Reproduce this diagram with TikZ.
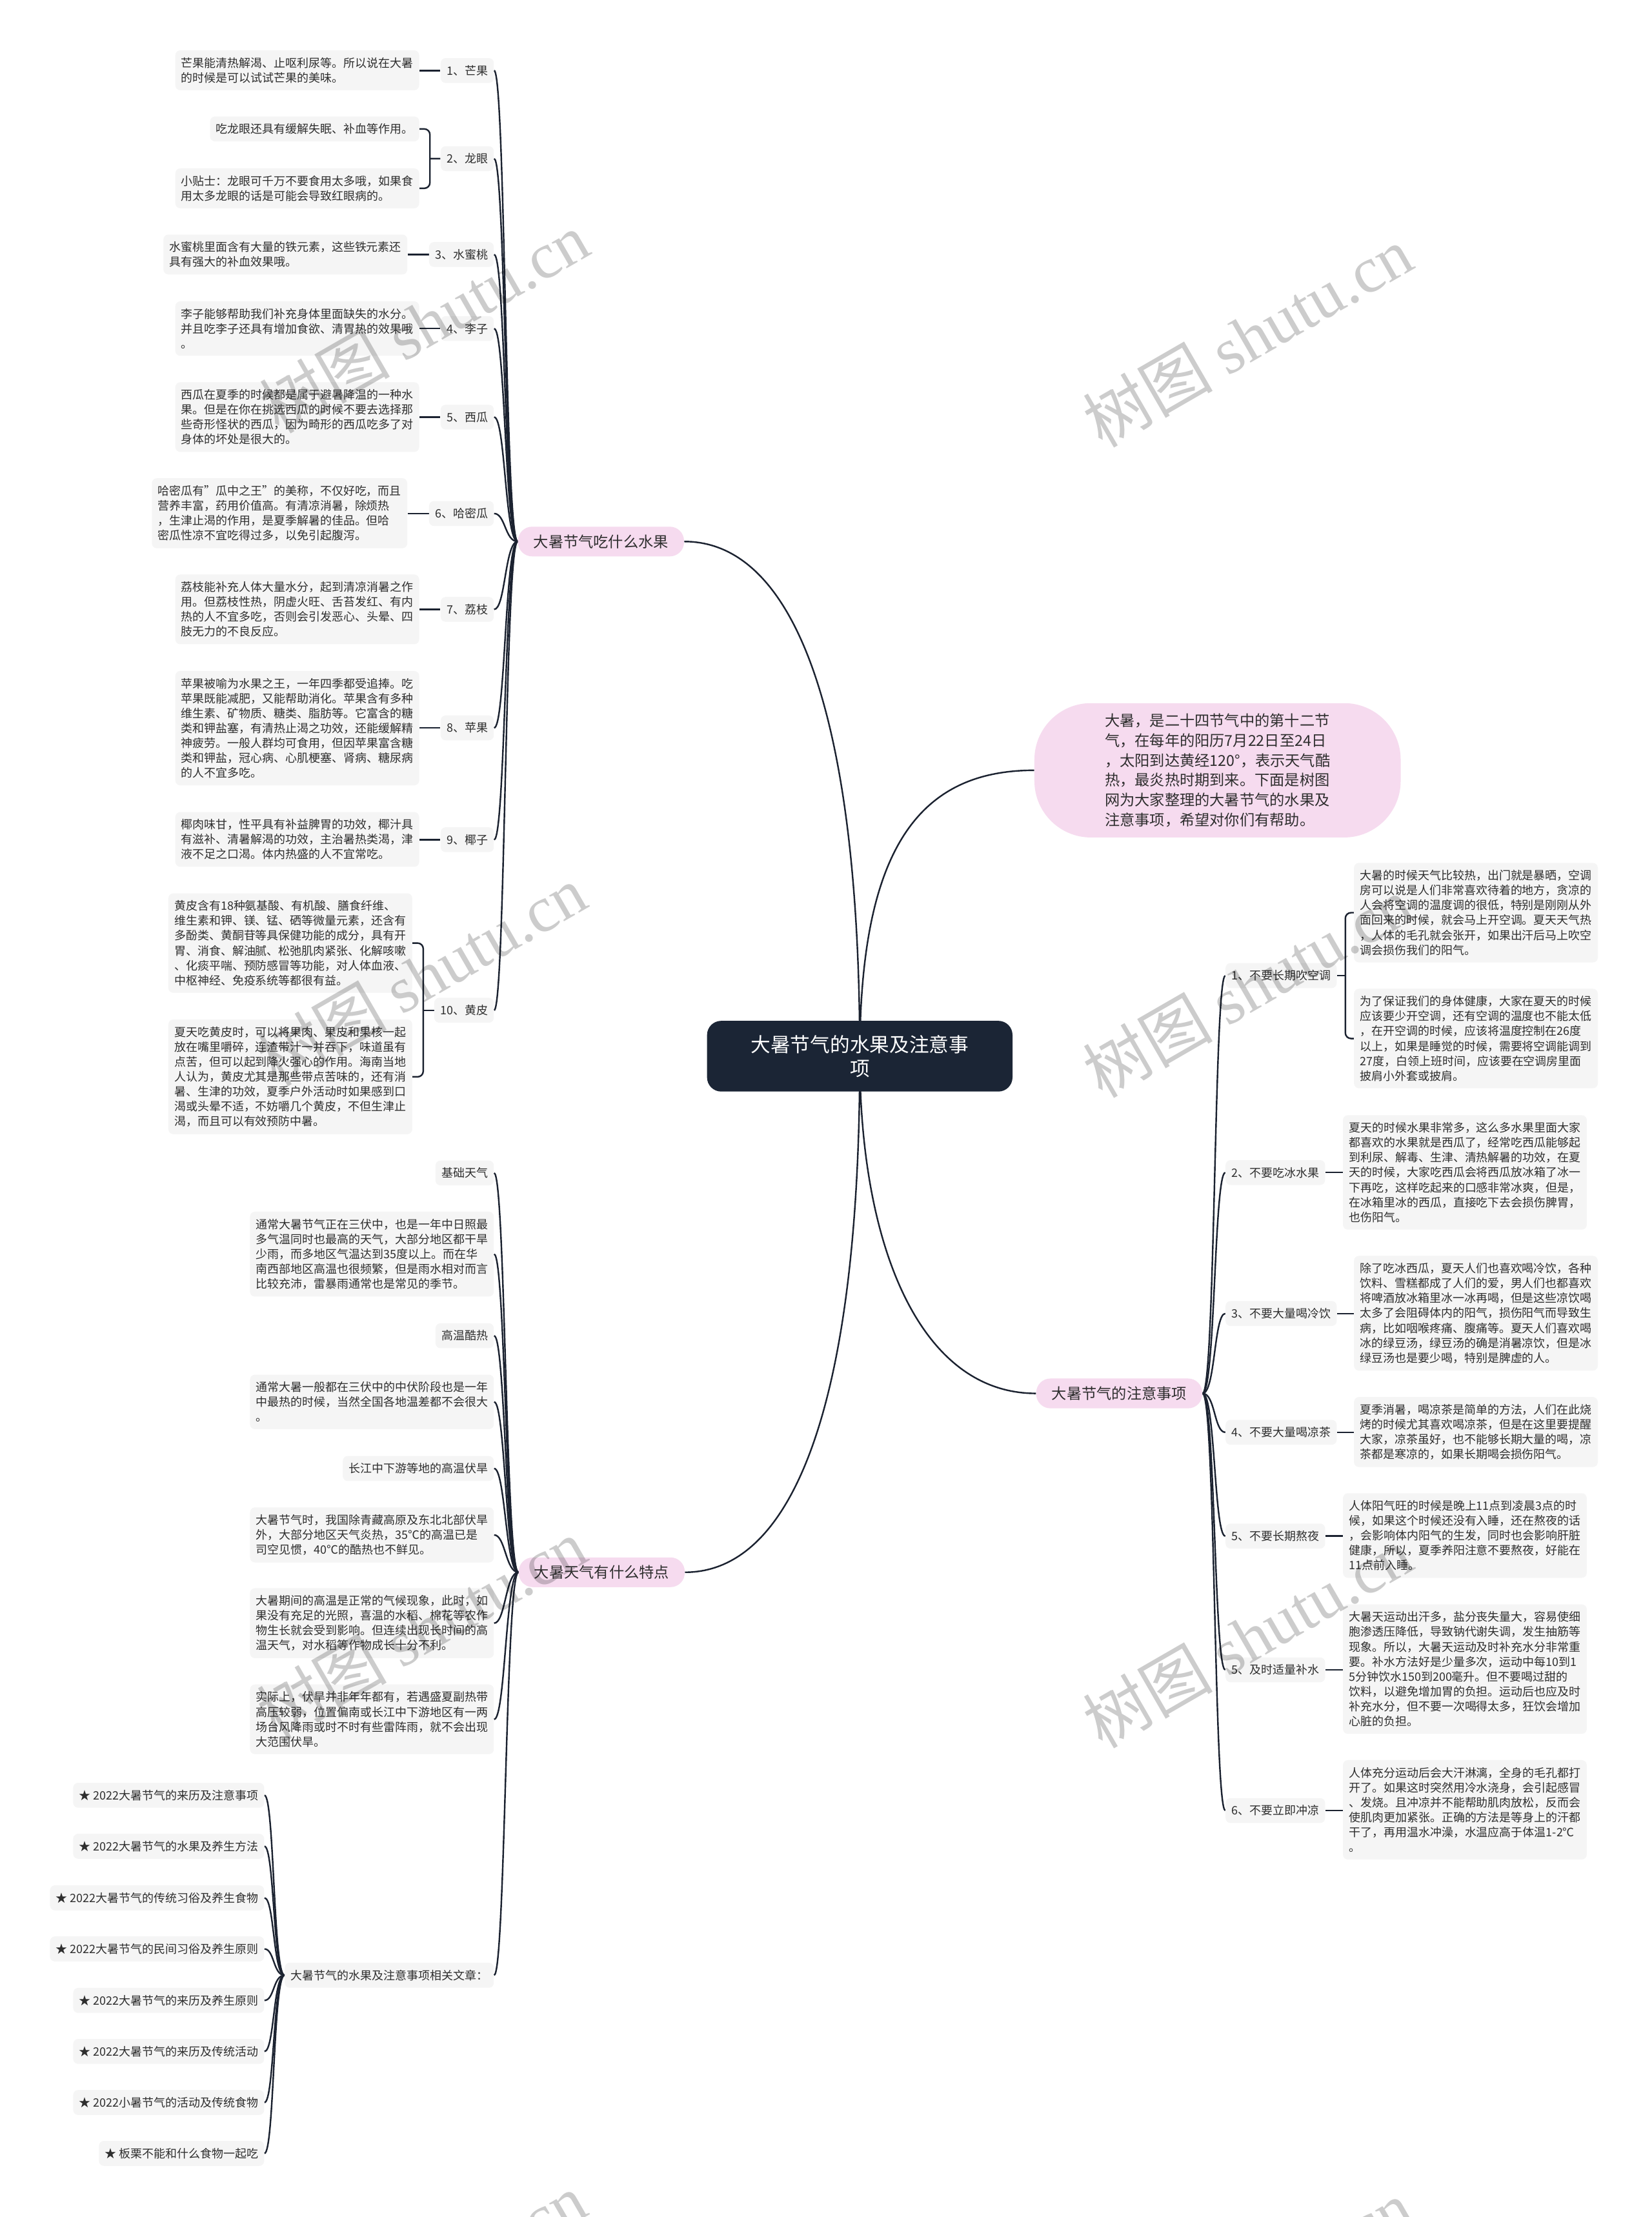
\documentclass[tikz,border=0pt]{standalone}
\usepackage{fontspec}
\setmainfont{Noto Sans CJK SC}
\newfontfamily\wmserif{Liberation Serif}
\usetikzlibrary{calc}
\pgfdeclarelayer{bg}
\pgfdeclarelayer{wm}
\pgfsetlayers{bg,main,wm}
\definecolor{parabg}{HTML}{F5F5F5}
\definecolor{pinkc}{HTML}{F6DBEF}
\definecolor{navy}{HTML}{1B2535}
\definecolor{linec}{HTML}{1B2230}
\definecolor{txt}{HTML}{2E2E2E}
\tikzset{
 para/.style={fill=parabg, rounded corners=3.5pt, inner xsep=4.2pt, inner ysep=5pt, align=left, text=txt, font=\fontsize{8.2}{10.55}\selectfont},
 pill/.style={fill=pinkc, rounded corners=10pt, inner xsep=11pt, inner ysep=5.6pt, text=txt, font=\fontsize{10.6}{13}\selectfont},
 conn/.style={draw=linec, line width=1.1pt},
 wmark/.style={text=black, text opacity=0.2, rotate=30, font=\fontsize{46}{50}\selectfont}
}
\begin{document}
\begin{tikzpicture}[x=1pt,y=-1pt]
\useasboundingbox (0,0) rectangle (1168,1568);
\begin{pgfonlayer}{bg}
\fill[white] (0,0) rectangle (1168,1568);
\end{pgfonlayer}

% center
\node[fill=navy, text=white, rounded corners=10pt, minimum width=216pt, minimum height=50pt, align=center, font=\fontsize{14}{17}\selectfont] (c) at (608,747) {大暑节气的水果及注意事\\项};

% branches
\node[pill] (b1) at (425,383) {大暑节气吃什么水果};
\node[pill] (bw) at (425.5,1112) {大暑天气有什么特点};
\node[pill] (b3) at (791.5,985.5) {大暑节气的注意事项};
\node[fill=pinkc, rounded corners=40pt, minimum width=259pt, minimum height=95pt, align=left, text=txt, font=\fontsize{10.6}{14.06}\selectfont] (b2) at (861,544.8) {大暑，是二十四节气中的第十二节\\气，在每年的阳历7月22日至24日\\，太阳到达黄经120°，表示天气酷\\热，最炎热时期到来。下面是树图\\网为大家整理的大暑节气的水果及\\注意事项，希望对你们有帮助。};
\node[para, anchor=east] (b4) at (349.4,1397) {大暑节气的水果及注意事项相关文章：};

% fruit labels
\node[para, anchor=east] (f1) at (349.4,49.9) {1、芒果};
\node[para, anchor=east] (f2) at (349.4,112.2) {2、龙眼};
\node[para, anchor=east] (f3) at (349.4,180) {3、水蜜桃};
\node[para, anchor=east] (f4) at (349.4,232.4) {4、李子};
\node[para, anchor=east] (f5) at (349.4,295) {5、西瓜};
\node[para, anchor=east] (f6) at (349.4,363.2) {6、哈密瓜};
\node[para, anchor=east] (f7) at (349.4,431) {7、荔枝};
\node[para, anchor=east] (f8) at (349.4,514.8) {8、苹果};
\node[para, anchor=east] (f9) at (349.4,593.9) {9、椰子};
\node[para, anchor=east] (f10) at (349.4,714.5) {10、黄皮};

% fruit paragraphs
\node[para, anchor=east] (p1) at (296.6,49.7) {芒果能清热解渴、止呕利尿等。所以说在大暑\\的时候是可以试试芒果的美味。};
\node[para, anchor=east] (p2a) at (296.6,91.2) {吃龙眼还具有缓解失眠、补血等作用。};
\node[para, anchor=east] (p2b) at (296.6,133.2) {小贴士：龙眼可千万不要食用太多哦，如果食\\用太多龙眼的话是可能会导致红眼病的。};
\node[para, anchor=east] (p3) at (288.2,180) {水蜜桃里面含有大量的铁元素，这些铁元素还\\具有强大的补血效果哦。};
\node[para, anchor=east] (p4) at (296.6,232.4) {李子能够帮助我们补充身体里面缺失的水分。\\并且吃李子还具有增加食欲、清胃热的效果哦\\。};
\node[para, anchor=east] (p5) at (296.6,295) {西瓜在夏季的时候都是属于避暑降温的一种水\\果。但是在你在挑选西瓜的时候不要去选择那\\些奇形怪状的西瓜，因为畸形的西瓜吃多了对\\身体的坏处是很大的。};
\node[para, anchor=east] (p6) at (288.2,363) {哈密瓜有\char"22 瓜中之王\char"22 的美称，不仅好吃，而且\\营养丰富，药用价值高。有清凉消暑，除烦热\\，生津止渴的作用，是夏季解暑的佳品。但哈\\密瓜性凉不宜吃得过多，以免引起腹泻。};
\node[para, anchor=east] (p7) at (296.6,431) {荔枝能补充人体大量水分，起到清凉消暑之作\\用。但荔枝性热，阴虚火旺、舌苔发红、有内\\热的人不宜多吃，否则会引发恶心、头晕、四\\肢无力的不良反应。};
\node[para, anchor=east] (p8) at (296.6,515) {苹果被喻为水果之王，一年四季都受追捧。吃\\苹果既能减肥，又能帮助消化。苹果含有多种\\维生素、矿物质、糖类、脂肪等。它富含的糖\\类和钾盐塞，有清热止渴之功效，还能缓解精\\神疲劳。一般人群均可食用，但因苹果富含糖\\类和钾盐，冠心病、心肌梗塞、肾病、糖尿病\\的人不宜多吃。};
\node[para, anchor=east] (p9) at (296.6,593.7) {椰肉味甘，性平具有补益脾胃的功效，椰汁具\\有滋补、清暑解渴的功效，主治暑热类渴，津\\液不足之口渴。体内热盛的人不宜常吃。};
\node[para, anchor=east] (p10a) at (291.7,667) {黄皮含有18种氨基酸、有机酸、膳食纤维、\\维生素和钾、镁、锰、硒等微量元素，还含有\\多酚类、黄酮苷等具保健功能的成分，具有开\\胃、消食、解油腻、松弛肌肉紧张、化解咳嗽\\、化痰平喘、预防感冒等功能，对人体血液、\\中枢神经、免疫系统等都很有益。};
\node[para, anchor=east] (p10b) at (291.7,761.6) {夏天吃黄皮时，可以将果肉、果皮和果核一起\\放在嘴里嚼碎，连渣带汁一并吞下，味道虽有\\点苦，但可以起到降火强心的作用。海南当地\\人认为，黄皮尤其是那些带点苦味的，还有消\\暑、生津的功效，夏季户外活动时如果感到口\\渴或头晕不适，不妨嚼几个黄皮，不但生津止\\渴，而且可以有效预防中暑。};

% weather children
\node[para, anchor=east] (w1) at (349.4,829.6) {基础天气};
\node[para, anchor=east] (w2) at (349.4,887) {通常大暑节气正在三伏中，也是一年中日照最\\多气温同时也最高的天气，大部分地区都干旱\\少雨，而多地区气温达到35度以上。而在华\\南西部地区高温也很频繁，但是雨水相对而言\\比较充沛，雷暴雨通常也是常见的季节。};
\node[para, anchor=east] (w3) at (349.4,944.7) {高温酷热};
\node[para, anchor=east] (w4) at (349.4,991.5) {通常大暑一般都在三伏中的中伏阶段也是一年\\中最热的时候，当然全国各地温差都不会很大\\。};
\node[para, anchor=east] (w5) at (349.4,1038.6) {长江中下游等地的高温伏旱};
\node[para, anchor=east] (w6) at (349.4,1085.6) {大暑节气时，我国除青藏高原及东北北部伏旱\\外，大部分地区天气炎热，35℃的高温已是\\司空见惯，40℃的酷热也不鲜见。};
\node[para, anchor=east] (w7) at (349.4,1148) {大暑期间的高温是正常的气候现象，此时，如\\果没有充足的光照，喜温的水稻、棉花等农作\\物生长就会受到影响。但连续出现长时间的高\\温天气，对水稻等作物成长十分不利。};
\node[para, anchor=east] (w8) at (349.4,1216) {实际上，伏旱并非年年都有，若遇盛夏副热带\\高压较弱，位置偏南或长江中下游地区有一两\\场台风降雨或时不时有些雷阵雨，就不会出现\\大范围伏旱。};

% right labels
\node[para, anchor=west] (r1) at (866.5,690) {1、不要长期吹空调};
\node[para, anchor=west] (r2) at (866.5,829.3) {2、不要吃冰水果};
\node[para, anchor=west] (r3) at (866.5,929) {3、不要大量喝冷饮};
\node[para, anchor=west] (r4) at (866.5,1013) {4、不要大量喝凉茶};
\node[para, anchor=west] (r5) at (866.5,1086.4) {5、不要长期熬夜};
\node[para, anchor=west] (r6) at (866.5,1181) {5、及时适量补水};
\node[para, anchor=west] (r7) at (866.5,1280.5) {6、不要立即冲凉};

% right paragraphs
\node[para, anchor=west] (q1a) at (957.3,645.5) {大暑的时候天气比较热，出门就是暴晒，空调\\房可以说是人们非常喜欢待着的地方，贪凉的\\人会将空调的温度调的很低，特别是刚刚从外\\面回来的时候，就会马上开空调。夏天天气热\\，人体的毛孔就会张开，如果出汗后马上吹空\\调会损伤我们的阳气。};
\node[para, anchor=west] (q1b) at (957.3,734.5) {为了保证我们的身体健康，大家在夏天的时候\\应该要少开空调，还有空调的温度也不能太低\\，在开空调的时候，应该将温度控制在26度\\以上，如果是睡觉的时候，需要将空调能调到\\27度，白领上班时间，应该要在空调房里面\\披肩小外套或披肩。};
\node[para, anchor=west] (q2) at (949.5,829.2) {夏天的时候水果非常多，这么多水果里面大家\\都喜欢的水果就是西瓜了，经常吃西瓜能够起\\到利尿、解毒、生津、清热解暑的功效，在夏\\天的时候，大家吃西瓜会将西瓜放冰箱了冰一\\下再吃，这样吃起来的口感非常冰爽，但是，\\在冰箱里冰的西瓜，直接吃下去会损伤脾胃，\\也伤阳气。};
\node[para, anchor=west] (q3) at (957.3,928.8) {除了吃冰西瓜，夏天人们也喜欢喝冷饮，各种\\饮料、雪糕都成了人们的爱，男人们也都喜欢\\将啤酒放冰箱里冰一冰再喝，但是这些凉饮喝\\太多了会阻碍体内的阳气，损伤阳气而导致生\\病，比如咽喉疼痛、腹痛等。夏天人们喜欢喝\\冰的绿豆汤，绿豆汤的确是消暑凉饮，但是冰\\绿豆汤也是要少喝，特别是脾虚的人。};
\node[para, anchor=west] (q4) at (957.3,1012.8) {夏季消暑，喝凉茶是简单的方法，人们在此烧\\烤的时候尤其喜欢喝凉茶，但是在这里要提醒\\大家，凉茶虽好，也不能够长期大量的喝，凉\\茶都是寒凉的，如果长期喝会损伤阳气。};
\node[para, anchor=west] (q5) at (949.5,1086) {人体阳气旺的时候是晚上11点到凌晨3点的时\\候，如果这个时候还没有入睡，还在熬夜的话\\，会影响体内阳气的生发，同时也会影响肝脏\\健康，所以，夏季养阳注意不要熬夜，好能在\\11点前入睡。};
\node[para, anchor=west] (q6) at (949.5,1180.5) {大暑天运动出汗多，盐分丧失量大，容易使细\\胞渗透压降低，导致钠代谢失调，发生抽筋等\\现象。所以，大暑天运动及时补充水分非常重\\要。补水方法好是少量多次，运动中每10到1\\5分钟饮水150到200毫升。但不要喝过甜的\\饮料，以避免增加胃的负担。运动后也应及时\\补充水分，但不要一次喝得太多，狂饮会增加\\心脏的负担。};
\node[para, anchor=west] (q7) at (949.5,1280) {人体充分运动后会大汗淋漓，全身的毛孔都打\\开了。如果这时突然用冷水浇身，会引起感冒\\、发烧。且冲凉并不能帮助肌肉放松，反而会\\使肌肉更加紧张。正确的方法是等身上的汗都\\干了，再用温水冲澡，水温应高于体温1-2℃\\。};

% list
\node[para, anchor=east] (s1) at (187,1269.7) {★ 2022大暑节气的来历及注意事项};
\node[para, anchor=east] (s2) at (187,1305.8) {★ 2022大暑节气的水果及养生方法};
\node[para, anchor=east] (s3) at (187,1342.3) {★ 2022大暑节气的传统习俗及养生食物};
\node[para, anchor=east] (s4) at (187,1378.4) {★ 2022大暑节气的民间习俗及养生原则};
\node[para, anchor=east] (s5) at (187,1414.8) {★ 2022大暑节气的来历及养生原则};
\node[para, anchor=east] (s6) at (187,1450.9) {★ 2022大暑节气的来历及传统活动};
\node[para, anchor=east] (s7) at (187,1487) {★ 2022小暑节气的活动及传统食物};
\node[para, anchor=east] (s8) at (187,1523) {★ 板栗不能和什么食物一起吃};

\begin{pgfonlayer}{bg}
% center connectors
\draw[conn] (c.center) .. controls (608,500) and (560,383) .. (b1.east);
\draw[conn] (c.center) .. controls (608,600) and (650,544.8) .. (b2.west);
\draw[conn] (c.center) .. controls (608,995) and (560,1112) .. (bw.east);
\draw[conn] (c.center) .. controls (608,880) and (650,985.5) .. (b3.west);
% trunks
\foreach \n in {f1,f2,f3,f4,f5,f6,f7,f8,f9,f10}
  \draw[conn] (b1.west) .. controls ($(b1.west)+(-9,0)$) and ($(\n.east)+(8,0)$) .. (\n.east);
\foreach \n in {w1,w2,w3,w4,w5,w6,w7,w8,b4}
  \draw[conn] (bw.west) .. controls ($(bw.west)+(-9,0)$) and ($(\n.east)+(8,0)$) .. (\n.east);
\foreach \n in {r1,r2,r3,r4,r5,r6,r7}
  \draw[conn] (b3.east) .. controls ($(b3.east)+(9,0)$) and ($(\n.west)+(-8,0)$) .. (\n.west);
\foreach \n in {s1,s2,s3,s4,s5,s6,s7,s8}
  \draw[conn] (b4.west) .. controls ($(b4.west)+(-8,0)$) and ($(\n.east)+(7,0)$) .. (\n.east);
% single links
\foreach \p/\l in {p1/f1,p3/f3,p4/f4,p5/f5,p6/f6,p7/f7,p8/f8,p9/f9}
  \draw[conn] (\p.east |- \l.west) -- (\l.west);
\foreach \p/\l in {q2/r2,q3/r3,q4/r4,q5/r5,q6/r6,q7/r7}
  \draw[conn] (\l.east) -- (\p.west |- \l.east);
% brackets
\coordinate (k2) at ($(f2.west)!0.5!(p2a.east |- f2.west)$);
\draw[conn, rounded corners=4pt] (p2a.east) -| (k2) |- (p2b.east);
\draw[conn] (f2.west) -- (k2);
\coordinate (k10) at ($(f10.west)!0.5!(p10a.east |- f10.west)$);
\draw[conn, rounded corners=4pt] (p10a.east) -| (k10) |- (p10b.east);
\draw[conn] (f10.west) -- (k10);
\coordinate (kr1) at ($(r1.east)!0.5!(q1a.west |- r1.east)$);
\draw[conn, rounded corners=4pt] (q1a.west) -| (kr1) |- (q1b.west);
\draw[conn] (r1.east) -- (kr1);
\end{pgfonlayer}

\begin{pgfonlayer}{wm}
\node[wmark] (wm1) at (300,228) {树图 {\wmserif shutu.cn}};
\node[wmark] (wm2) at (882,238) {树图 {\wmserif shutu.cn}};
\node[wmark] (wm3) at (298,690) {树图 {\wmserif shutu.cn}};
\node[wmark] (wm4) at (882,698) {树图 {\wmserif shutu.cn}};
\node[wmark] (wm5) at (298,1152) {树图 {\wmserif shutu.cn}};
\node[wmark] (wm6) at (882,1158) {树图 {\wmserif shutu.cn}};
\node[wmark] (wm7) at (298,1615) {树图 {\wmserif shutu.cn}};
\node[wmark] (wm8) at (882,1620) {树图 {\wmserif shutu.cn}};
\end{pgfonlayer}
\end{tikzpicture}
\end{document}
